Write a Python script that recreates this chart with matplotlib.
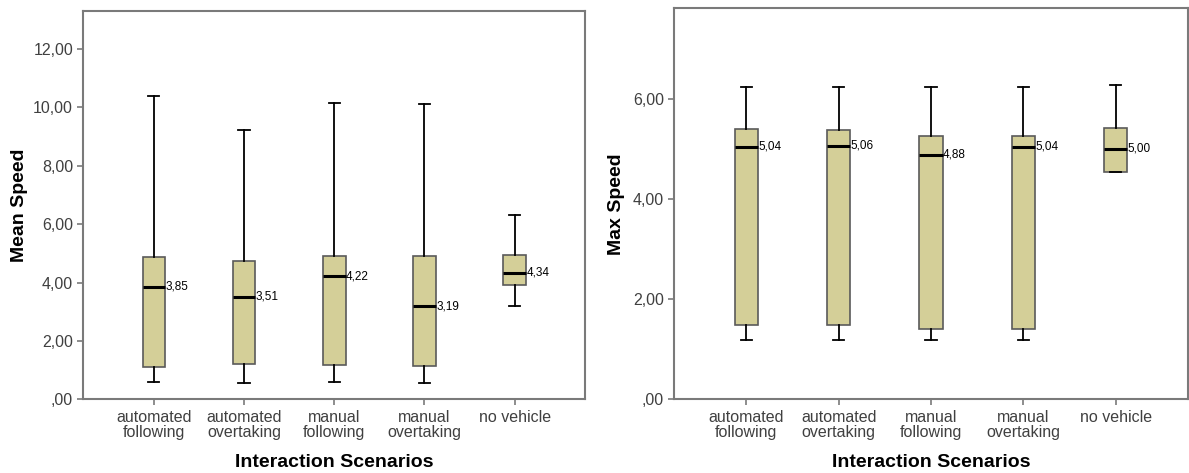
import matplotlib.pyplot as plt

plt.rcParams['font.family'] = ['Liberation Sans', 'DejaVu Sans']

scenarios = ['automated\nfollowing', 'automated\novertaking', 'manual\nfollowing',
             'manual\novertaking', 'no vehicle']

# Mean speed box statistics per scenario
mean_low = [0.58, 0.55, 0.60, 0.55, 3.19]
mean_q1 = [1.12, 1.21, 1.19, 1.15, 3.93]
mean_med = [3.85, 3.51, 4.22, 3.19, 4.34]
mean_q3 = [4.89, 4.75, 4.92, 4.92, 4.96]
mean_high = [10.40, 9.21, 10.15, 10.12, 6.31]

# Max speed box statistics per scenario
max_low = [1.18, 1.18, 1.18, 1.18, 4.54]
max_q1 = [1.49, 1.49, 1.41, 1.41, 4.54]
max_med = [5.04, 5.06, 4.88, 5.04, 5.00]
max_q3 = [5.40, 5.38, 5.26, 5.26, 5.42]
max_high = [6.23, 6.23, 6.23, 6.23, 6.26]

BOX_FILL = '#d4cf98'
BOX_EDGE = '#5a5a5a'
FRAME = '#7a7a7a'
TICK_TXT = '#404040'


def comma(v):
    s = f'{v:.2f}'.replace('.', ',')
    return s[1:] if s.startswith('0') else s


def draw_panel(ax, low, q1, med, q3, high, ylim, yticks, ylabel, ylab_x):
    stats = [dict(whislo=a, q1=b, med=c, q3=d, whishi=e)
             for a, b, c, d, e in zip(low, q1, med, q3, high)]
    pos = list(range(len(stats)))
    ax.bxp(stats, positions=pos, widths=0.25, showfliers=False, patch_artist=True,
           boxprops=dict(facecolor=BOX_FILL, edgecolor=BOX_EDGE, linewidth=1.2),
           medianprops=dict(color='black', linewidth=2.2),
           whiskerprops=dict(color='black', linewidth=1.3),
           capprops=dict(color='black', linewidth=1.3))
    for p, m in zip(pos, med):
        ax.text(p + 0.13, m, comma(m), fontsize=8.5, va='center', ha='left',
                color='black')
    ax.set_xlim(-0.78, 4.78)
    ax.set_ylim(*ylim)
    ax.set_yticks(yticks)
    ax.set_yticklabels([comma(t) for t in yticks], fontsize=11.5, color=TICK_TXT)
    ax.set_xticks(pos)
    ax.set_xticklabels(scenarios, fontsize=11.5, color=TICK_TXT, linespacing=1.0)
    ax.tick_params(axis='both', direction='out', length=4, width=1.2, color=FRAME)
    for sp in ax.spines.values():
        sp.set_color(FRAME)
        sp.set_linewidth(1.5)
    ax.set_ylabel(ylabel, fontsize=14, fontweight='bold')
    ax.yaxis.set_label_coords(ylab_x, 0.5)
    ax.set_xlabel('Interaction Scenarios', fontsize=14, fontweight='bold')
    ax.xaxis.set_label_coords(0.5, -0.14)


fig = plt.figure(figsize=(11.89, 4.73), dpi=100)
ax1 = fig.add_axes([0.0702, 0.1558, 0.4218, 0.8220])
ax2 = fig.add_axes([0.5671, 0.1558, 0.4318, 0.8267])

draw_panel(ax1, mean_low, mean_q1, mean_med, mean_q3, mean_high,
           (0, 13.32), [0, 2, 4, 6, 8, 10, 12], 'Mean Speed', -0.111)
draw_panel(ax2, max_low, max_q1, max_med, max_q3, max_high,
           (0, 7.80), [0, 2, 4, 6], 'Max Speed', -0.096)

fig.savefig('out.png', dpi=100)
